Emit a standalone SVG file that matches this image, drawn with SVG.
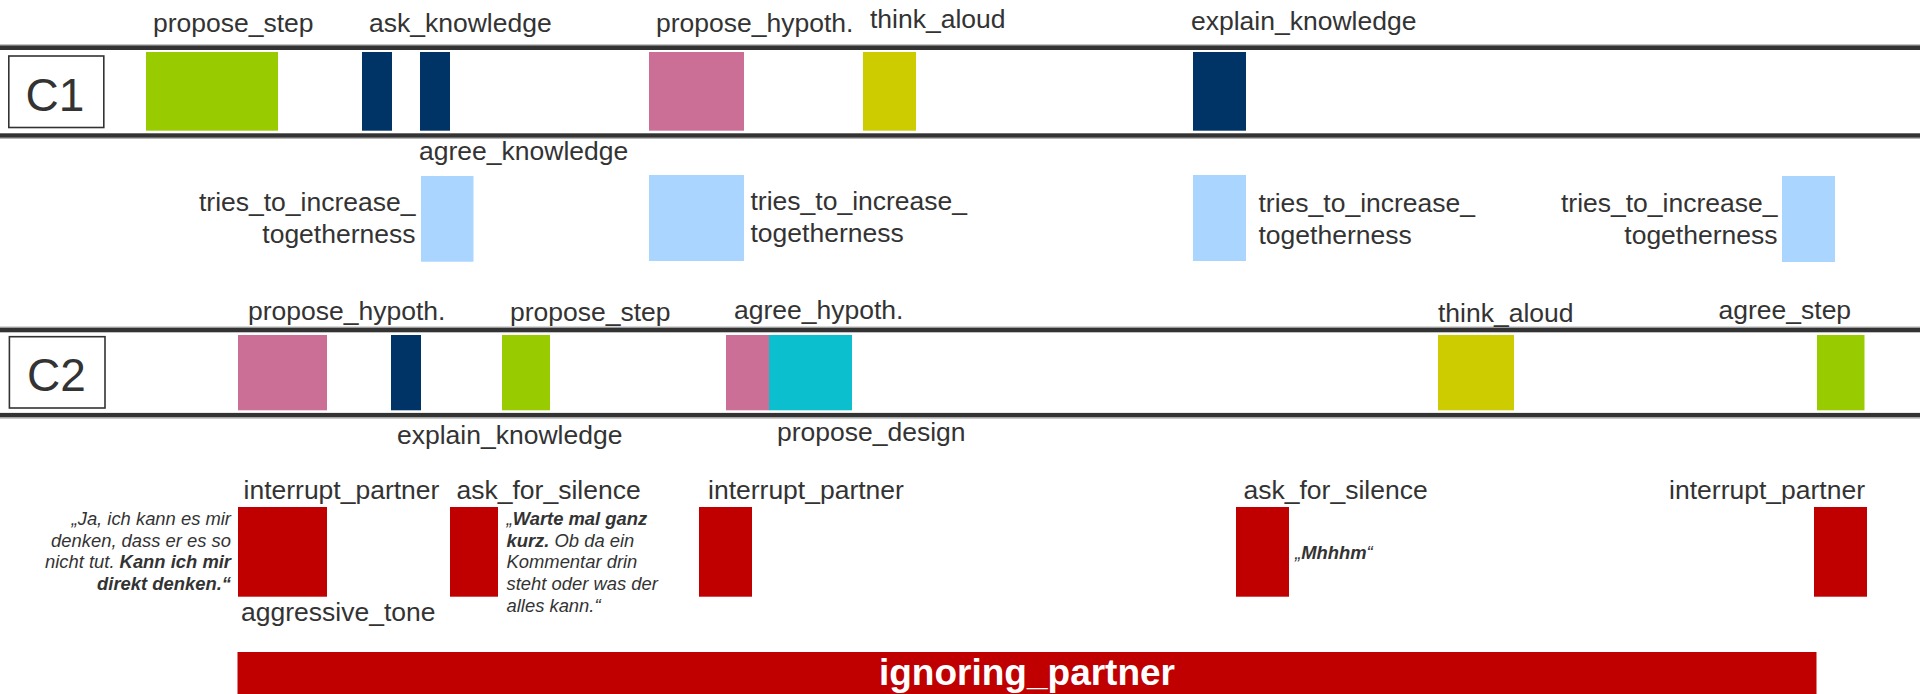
<svg xmlns="http://www.w3.org/2000/svg" width="1920" height="694" viewBox="0 0 1920 694">
  <style>
    .lbl { font-family: "Liberation Sans", Arial, sans-serif; font-size: 26.5px; fill: #333333; }
    .tag { font-family: "Liberation Sans", Arial, sans-serif; font-size: 46px; fill: #333333; text-anchor: middle; }
    .q { font-family: "Liberation Sans", Arial, sans-serif; font-size: 18.4px; font-style: italic; fill: #333333; }
    .b { font-weight: bold; }
    .end { text-anchor: end; }
    .track { fill: #333333; }
    .edge { fill: #b4b4b4; }
    .box { fill: #ffffff; stroke: #333333; stroke-width: 1.6; }
    .step { fill: #99cc00; }
    .know { fill: #003366; }
    .hyp { fill: #cc6f96; }
    .think { fill: #cccc00; }
    .tog { fill: #aad5ff; }
    .design { fill: #0bbfcf; }
    .neg { fill: #c00000; }
  </style>

  <rect width="1920" height="694" fill="#ffffff"/>

  <!-- track rails -->
  <g id="tracks">
    <rect class="edge" x="0" y="44.2" width="1920" height="1.2"/>
    <rect class="track" x="0" y="45.4" width="1920" height="4.6"/>
    <rect class="track" x="0" y="133.3" width="1920" height="4.5"/>
    <rect class="edge" x="0" y="137.8" width="1920" height="1.2"/>
    <rect class="edge" x="0" y="326.5" width="1920" height="1.2"/>
    <rect class="track" x="0" y="327.7" width="1920" height="4.6"/>
    <rect class="track" x="0" y="412.9" width="1920" height="4.6"/>
    <rect class="edge" x="0" y="417.5" width="1920" height="1.2"/>
  </g>

  <!-- row C1 -->
  <g id="c1-tag">
    <rect class="box" x="8.8" y="56" width="95" height="71.5"/>
    <text class="tag" x="55" y="110.7">C1</text>
  </g>
  <g id="c1-propose-step">
    <rect class="step" x="146" y="52" width="132" height="78.7"/>
    <text class="lbl" x="153" y="32">propose_step</text>
  </g>
  <g id="c1-ask-knowledge">
    <rect class="know" x="362" y="52" width="30" height="78.7"/>
    <text class="lbl" x="369" y="32">ask_knowledge</text>
  </g>
  <g id="c1-agree-knowledge">
    <rect class="know" x="420" y="52" width="30" height="78.7"/>
    <text class="lbl" x="419" y="159.5">agree_knowledge</text>
  </g>
  <g id="c1-propose-hypoth">
    <rect class="hyp" x="649" y="52" width="95" height="78.7"/>
    <text class="lbl" x="656" y="32">propose_hypoth.</text>
  </g>
  <g id="c1-think-aloud">
    <rect class="think" x="863" y="52" width="53" height="78.7"/>
    <text class="lbl" x="870" y="28">think_aloud</text>
  </g>
  <g id="c1-explain-knowledge">
    <rect class="know" x="1193" y="52" width="53" height="78.7"/>
    <text class="lbl" x="1191" y="30">explain_knowledge</text>
  </g>

  <!-- togetherness attempts -->
  <g id="tog-1">
    <rect class="tog" x="421" y="176" width="52.5" height="85.7"/>
    <text class="lbl end" x="415.5" y="211">tries_to_increase_</text>
    <text class="lbl end" x="415.5" y="243">togetherness</text>
  </g>
  <g id="tog-2">
    <rect class="tog" x="649" y="175" width="95" height="86"/>
    <text class="lbl" x="750.5" y="210">tries_to_increase_</text>
    <text class="lbl" x="750.5" y="242">togetherness</text>
  </g>
  <g id="tog-3">
    <rect class="tog" x="1193" y="175" width="53" height="86"/>
    <text class="lbl" x="1258.5" y="211.5">tries_to_increase_</text>
    <text class="lbl" x="1258.5" y="243.5">togetherness</text>
  </g>
  <g id="tog-4">
    <rect class="tog" x="1782" y="176" width="53" height="86"/>
    <text class="lbl end" x="1777.5" y="211.5">tries_to_increase_</text>
    <text class="lbl end" x="1777.5" y="243.5">togetherness</text>
  </g>

  <!-- row C2 -->
  <g id="c2-tag">
    <rect class="box" x="9.4" y="336.7" width="95.6" height="71.3"/>
    <text class="tag" x="56.5" y="390.7">C2</text>
  </g>
  <g id="c2-propose-hypoth">
    <rect class="hyp" x="238" y="335" width="89" height="75.3"/>
    <text class="lbl" x="248" y="319.5">propose_hypoth.</text>
  </g>
  <g id="c2-explain-knowledge">
    <rect class="know" x="391" y="335" width="30" height="75.3"/>
    <text class="lbl" x="397" y="444">explain_knowledge</text>
  </g>
  <g id="c2-propose-step">
    <rect class="step" x="502" y="335" width="48" height="75.3"/>
    <text class="lbl" x="510" y="320.5">propose_step</text>
  </g>
  <g id="c2-agree-hypoth">
    <rect class="hyp" x="726" y="335" width="43.5" height="75.3"/>
    <text class="lbl" x="734" y="318.5">agree_hypoth.</text>
  </g>
  <g id="c2-propose-design">
    <rect class="design" x="769" y="335" width="83" height="75.3"/>
    <text class="lbl" x="777" y="440.5">propose_design</text>
  </g>
  <g id="c2-think-aloud">
    <rect class="think" x="1438" y="335" width="76" height="75.3"/>
    <text class="lbl" x="1438" y="322">think_aloud</text>
  </g>
  <g id="c2-agree-step">
    <rect class="step" x="1817" y="335" width="47.5" height="75.3"/>
    <text class="lbl" x="1718.5" y="318.5">agree_step</text>
  </g>

  <!-- negative behaviours -->
  <g id="neg-interrupt-1">
    <rect class="neg" x="238" y="507" width="89" height="89.7"/>
    <text class="lbl" x="243.5" y="499.3">interrupt_partner</text>
    <text class="lbl" x="241" y="620.5">aggressive_tone</text>
    <text class="q end" x="231" y="525">„Ja, ich kann es mir</text>
    <text class="q end" x="231" y="546.7">denken, dass er es so</text>
    <text class="q end" x="231" y="568.3">nicht tut. <tspan class="b">Kann ich mir</tspan></text>
    <text class="q b end" x="231" y="590">direkt denken.“</text>
  </g>
  <g id="neg-silence-1">
    <rect class="neg" x="450" y="507" width="48" height="89.7"/>
    <text class="lbl" x="456.5" y="499.3">ask_for_silence</text>
    <text class="q" x="506.5" y="525">„<tspan class="b">Warte mal ganz</tspan></text>
    <text class="q" x="506.5" y="546.7"><tspan class="b">kurz.</tspan> Ob da ein</text>
    <text class="q" x="506.5" y="568.3">Kommentar drin</text>
    <text class="q" x="506.5" y="590">steht oder was der</text>
    <text class="q" x="506.5" y="611.7">alles kann.“</text>
  </g>
  <g id="neg-interrupt-2">
    <rect class="neg" x="699" y="507" width="53" height="89.7"/>
    <text class="lbl" x="708" y="499.3">interrupt_partner</text>
  </g>
  <g id="neg-silence-2">
    <rect class="neg" x="1236" y="507" width="53" height="89.7"/>
    <text class="lbl" x="1243.5" y="499.3">ask_for_silence</text>
    <text class="q" x="1295" y="559.3">„<tspan class="b">Mhhhm</tspan>“</text>
  </g>
  <g id="neg-interrupt-3">
    <rect class="neg" x="1814" y="507" width="53" height="89.7"/>
    <text class="lbl end" x="1865" y="499.3">interrupt_partner</text>
  </g>

  <g id="ignoring-partner">
    <rect class="neg" x="237.5" y="652" width="1579" height="42"/>
    <text x="1027" y="685" text-anchor="middle" font-family="'Liberation Sans', Arial, sans-serif" font-size="37" font-weight="bold" fill="#ffffff">ignoring_partner</text>
  </g>
</svg>
